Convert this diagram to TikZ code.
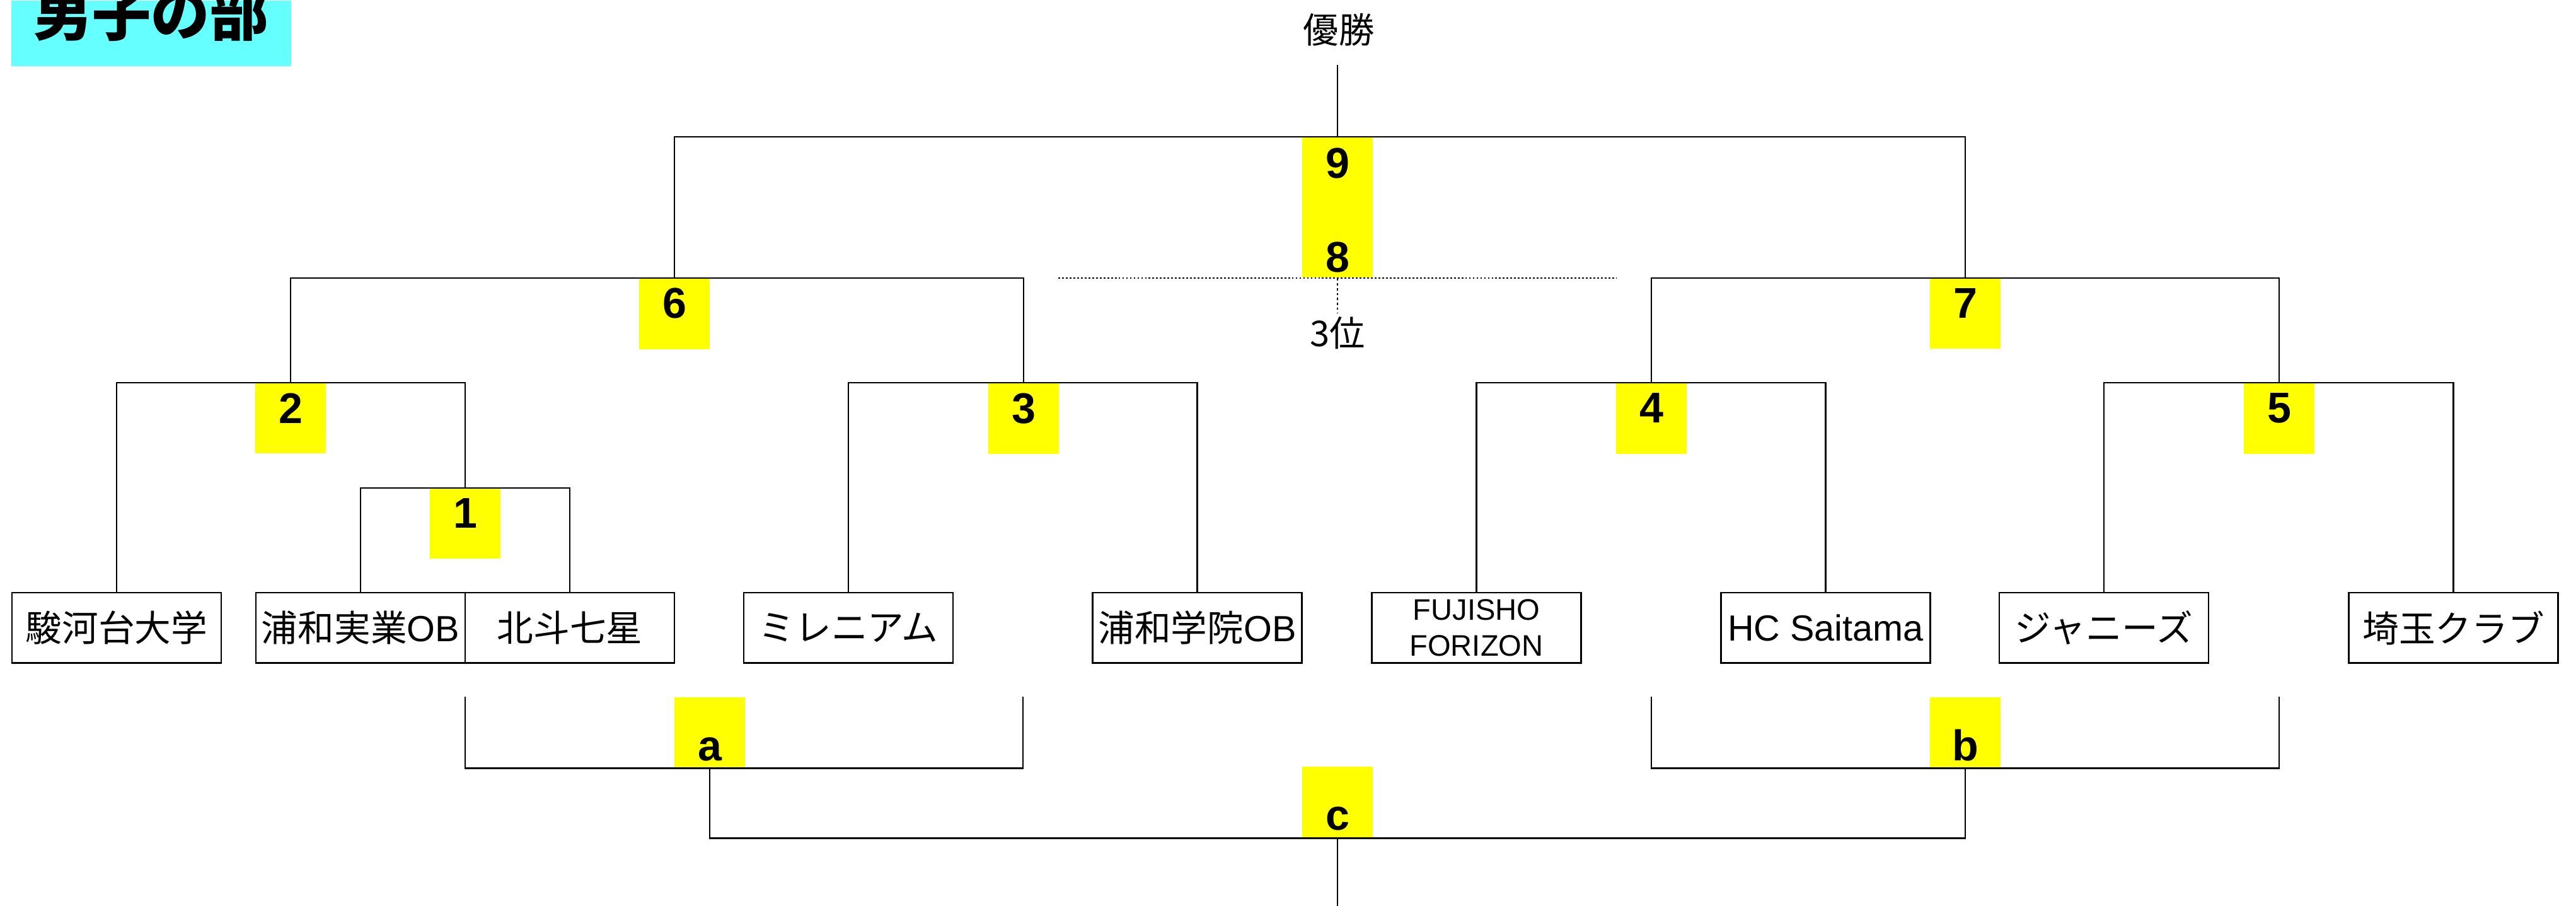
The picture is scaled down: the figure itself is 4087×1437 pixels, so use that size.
\documentclass[tikz,border=0pt]{standalone}
\usepackage{fontspec}
\setmainfont{Liberation Sans}
\newfontfamily\jp{Noto Sans CJK JP}
\definecolor{titlecyan}{HTML}{66FFFF}
\definecolor{hlyellow}{HTML}{FFFF00}
\begin{document}
\begin{tikzpicture}[x=0.01cm,y=-0.01cm,line width=0.7pt,
  team/.style={draw,line width=0.7pt,minimum width=3.32cm,minimum height=1.11cm,inner sep=0pt,anchor=north,font=\fontsize{16.4}{19}\selectfont},
  ybox/.style={fill=hlyellow,inner sep=0pt,minimum width=1.12cm,anchor=north,font=\fontsize{19.4}{22}\selectfont\bfseries},
  lbl/.style={inner sep=0pt,font=\jp\fontsize{16}{19}\selectfont},
  dotline/.style={line width=0.8pt,dash pattern=on 0.8pt off 0.9pt},
  dotvert/.style={line width=0.5pt,dash pattern=on 1pt off 1.2pt}]
\useasboundingbox (0,0) rectangle (4087,1437);
% title
\node[fill=titlecyan,inner sep=0pt,minimum width=4.44cm,minimum height=1.04cm,text height=0.55cm,text depth=0.49cm,anchor=north,font=\jp\bfseries\fontsize{26.5}{30}\selectfont] (title) at (240,0) {男子の部};
% teams
\node[team] (tA) at (185,939) {{\jp 駿河台大学}};
\node[team] (tB) at (572,939) {{\jp 浦和実業}OB};
\node[team] (tC) at (904,939) {{\jp 北斗七星}};
\node[team] (tD) at (1346,939) {{\jp ミレニアム}};
\node[team] (tE) at (1899.5,939) {{\jp 浦和学院}OB};
\node[team,align=center,font=\fontsize{13.4}{16.2}\selectfont] (tF) at (2342.5,939) {FUJISHO\\FORIZON};
\node[team] (tG) at (2896.5,939) {HC Saitama};
\node[team] (tH) at (3338,939) {{\jp ジャニーズ}};
\node[team] (tI) at (3892.5,939) {{\jp 埼玉クラブ}};
% match numbers
\node[ybox,text height=0.62cm,text depth=0.49cm] (m1) at (738,774) {1};
\node[ybox,text height=0.63cm,text depth=0.48cm] (m2) at (461,607) {2};
\node[ybox,text height=0.63cm,text depth=0.49cm] (m3) at (1624,607) {3};
\node[ybox,text height=0.62cm,text depth=0.50cm] (m4) at (2620,607) {4};
\node[ybox,text height=0.62cm,text depth=0.50cm] (m5) at (3616,607) {5};
\node[ybox,text height=0.62cm,text depth=0.50cm] (m6) at (1070,441) {6};
\node[ybox,text height=0.62cm,text depth=0.49cm] (m7) at (3118,441) {7};
\node[ybox,text height=0.64cm,text depth=0.47cm] (m9) at (2122,217) {9};
\node[ybox,text height=1.02cm,text depth=0.09cm] (m8) at (2122,328) {8};
\node[ybox,text height=1.00cm,text depth=0.11cm] (ma) at (1126,1105) {a};
\node[ybox,text height=1.00cm,text depth=0.11cm] (mb) at (3118,1105) {b};
\node[ybox,text height=1.00cm,text depth=0.12cm] (mc) at (2122,1215) {c};
% labels
\node[lbl] (win) at (2124,47) {優勝};
\node[lbl] (third) at (2122,528) {3位};
% free ends
\coordinate (winend) at (2122,103);
\coordinate (aL) at (738,1105);
\coordinate (aR) at (1623,1105);
\coordinate (bL) at (2620,1105);
\coordinate (bR) at (3616,1105);
\coordinate (cend) at (2122,1437);
\coordinate (dL) at (1679,441);
\coordinate (dR) at (2565,441);
\coordinate (dEnd) at (2122,496);
% bracket lines
\draw (winend) -- (m9.north);
\draw (m6.north) |- (m9.north) -| (m7.north);
\draw (m2.north) |- (m6.north) -| (m3.north);
\draw (m4.north) |- (m7.north) -| (m5.north);
\draw (tA.north) |- (m2.north) -| (m1.north);
\draw (tB.north) |- (m1.north) -| (tC.north);
\draw (tD.north) |- (m3.north) -| (tE.north);
\draw (tF.north) |- (m4.north) -| (tG.north);
\draw (tH.north) |- (m5.north) -| (tI.north);
\draw (aL) |- (ma.south) -| (aR);
\draw (bL) |- (mb.south) -| (bR);
\draw (ma.south) |- (mc.south) -| (mb.south);
\draw (mc.south) -- (cend);
\draw[dotline] (dL) -- (dR);
\draw[dotvert] (m8.south) -- (dEnd);
\end{tikzpicture}
\end{document}
